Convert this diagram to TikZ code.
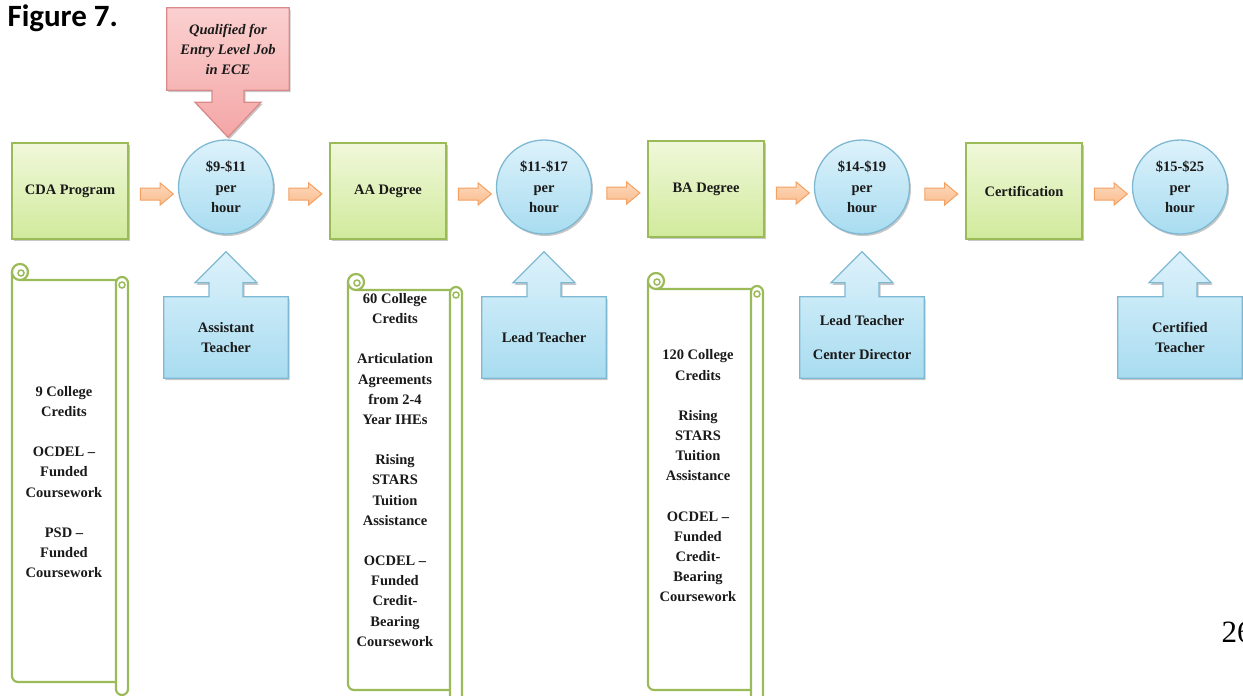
\documentclass[tikz,border=0pt]{standalone}
\usepackage{fontspec}
\setmainfont{Liberation Serif}
\newfontfamily\figfont{Carlito}
\usetikzlibrary{shapes.arrows,shapes.geometric,calc,backgrounds,shadows}
\definecolor{grnline}{HTML}{9BBB59}
\definecolor{grntop}{HTML}{F0F8DA}
\definecolor{grnbot}{HTML}{D1EA9C}
\definecolor{bluline}{HTML}{7FB8D2}
\definecolor{blutop}{HTML}{DDF2FB}
\definecolor{blubot}{HTML}{A8DCF0}
\definecolor{redline}{HTML}{D98A8A}
\definecolor{redtop}{HTML}{FBD0D0}
\definecolor{redbot}{HTML}{F4A6A6}
\definecolor{orgline}{HTML}{F4A060}
\definecolor{orgtop}{HTML}{FDD9BC}
\definecolor{orgbot}{HTML}{F9BC8E}
\definecolor{txt}{HTML}{1A1A1A}
\newcommand\scrollshape[4]{%
  \filldraw[scrollline, rounded corners=6pt] (#1,#3-8) -- (#1,#4) -- (#2-6,#4) -- (#2-6,#3) -- (#1+8,#3);
  \draw[scrollline] (#1+8,#3-8) circle (8pt);
  \draw[scrollline, fill=none, line width=1.5pt] (#1+9,#3-7) circle (3pt);
  \draw[scrollline, rounded corners=6pt] (#2-12,#3-3) rectangle (#2,#4+13);
  \draw[scrollline, fill=none, line width=1.5pt] (#2-6,#3+5) circle (3pt);
}
\begin{document}
\begin{tikzpicture}[x=1pt,y=-1pt,
  every node/.style={text=txt},
  font=\bfseries\fontsize{14.5}{20.2}\selectfont,
  softshadow/.style={drop shadow={shadow xshift=1.5pt, shadow yshift=-2pt, opacity=0.22, fill=black}},
  stepbox/.style={draw=grnline, line width=1.3pt, top color=grntop, bottom color=grnbot,
    minimum width=116pt, minimum height=96pt, inner sep=0pt, align=center, softshadow},
  rate/.style={ellipse, draw=bluline, line width=1.3pt, top color=blutop, bottom color=blubot,
    minimum width=95pt, minimum height=94pt, inner sep=0pt, align=center, softshadow},
  barrow/.style={single arrow, draw=orgline, line width=1pt, top color=orgtop, bottom color=orgbot,
    minimum height=33pt, inner xsep=0pt, inner ysep=5.5pt, single arrow head extend=5pt,
    single arrow tip angle=80},
  callbox/.style={minimum width=124pt, minimum height=81pt, inner sep=0pt, align=center},
  bluecall/.style={draw=bluline, line width=1.3pt, top color=blutop, bottom color=blubot, softshadow},
  redcall/.style={draw=redline, line width=1.3pt, top color=redtop, bottom color=redbot, softshadow},
  scrollline/.style={draw=grnline, line width=2.2pt, fill=white},
  scrolltext/.style={align=center, inner sep=0pt}
]
\useasboundingbox (0,0) rectangle (1243,696);
\clip (0,0) rectangle (1243,696);

\node[anchor=base west, font=\figfont\bfseries\fontsize{31}{31}\selectfont, text=black] (fig) at (4,27) {Figure 7.};
\node[anchor=base west, font=\normalfont\fontsize{31}{31}\selectfont, text=black] (pg) at (1218,642) {26};

% main row
\node[stepbox] (cda) at (70,191) {CDA Program};
\node[rate] (r1) at (226,187) {\$9-\$11\\per\\hour};
\node[stepbox] (aa) at (388,191) {AA Degree};
\node[rate] (r2) at (544,187) {\$11-\$17\\per\\hour};
\node[stepbox] (ba) at (706,189) {BA Degree};
\node[rate] (r3) at (862,187) {\$14-\$19\\per\\hour};
\node[stepbox] (cert) at (1024,191) {Certification};
\node[rate] (r4) at (1180,187) {\$15-\$25\\per\\hour};

\node[barrow, yshift=-5pt] (a1) at ($(cda.east)!0.5!(r1.west)$) {};
\node[barrow, yshift=-5pt] (a2) at ($(r1.east)!0.5!(aa.west)$) {};
\node[barrow, yshift=-5pt] (a3) at ($(aa.east)!0.5!(r2.west)$) {};
\node[barrow, yshift=-5pt] (a4) at ($(r2.east)!0.5!(ba.west)$) {};
\node[barrow, yshift=-5pt] (a5) at ($(ba.east)!0.5!(r3.west)$) {};
\node[barrow, yshift=-5pt] (a6) at ($(r3.east)!0.5!(cert.west)$) {};
\node[barrow, yshift=-5pt] (a7) at ($(cert.east)!0.5!(r4.west)$) {};

% callouts
\node[callbox, minimum width=122pt, minimum height=82pt,
  font=\bfseries\itshape\fontsize{14.5}{20}\selectfont] (q) at (228,49) {Qualified for\\Entry Level Job\\in ECE};
\node[callbox] (t1) at (226,337.5) {Assistant\\Teacher};
\node[callbox] (t2) at (544,337.5) {Lead Teacher};
\node[callbox] (t3) at (862,337.5) {Lead Teacher\\[13pt]Center Director};
\node[callbox] (t4) at (1180,337.5) {Certified\\Teacher};

\begin{scope}[on background layer]
\draw[redcall] (q.north west) -- (q.north east) -- (q.south east) -- ($(q.south)+(16,0)$)
  -- ($(q.south)+(16,12)$) -- ($(q.south)+(33,12)$) -- ($(q.south)+(0,47)$)
  -- ($(q.south)+(-33,12)$) -- ($(q.south)+(-16,12)$) -- ($(q.south)+(-16,0)$)
  -- (q.south west) -- cycle;
\foreach \t in {t1,t2,t3,t4}{
  \draw[bluecall] (\t.south west) -- (\t.north west) -- ($(\t.north)+(-17,0)$)
    -- ($(\t.north)+(-17,-14)$) -- ($(\t.north)+(-31,-14)$) -- ($(\t.north)+(0,-45)$)
    -- ($(\t.north)+(31,-14)$) -- ($(\t.north)+(17,-14)$) -- ($(\t.north)+(17,0)$)
    -- (\t.north east) -- (\t.south east) -- cycle;
}
\end{scope}

% scrolls
\scrollshape{12}{128}{280}{682}
\scrollshape{348}{462}{290}{690}
\scrollshape{648}{763}{289}{690}

\node[scrolltext] (s1) at (64,482) {9 College\\Credits\\[20pt]OCDEL –\\Funded\\Coursework\\[20pt]PSD –\\Funded\\Coursework};
\node[scrolltext] (s2) at (395,470) {60 College\\Credits\\[20pt]Articulation\\Agreements\\from 2-4\\Year IHEs\\[20pt]Rising\\STARS\\Tuition\\Assistance\\[20pt]OCDEL –\\Funded\\Credit-\\Bearing\\Coursework};
\node[scrolltext] (s3) at (698,476) {120 College\\Credits\\[20pt]Rising\\STARS\\Tuition\\Assistance\\[20pt]OCDEL –\\Funded\\Credit-\\Bearing\\Coursework};
\end{tikzpicture}
\end{document}
